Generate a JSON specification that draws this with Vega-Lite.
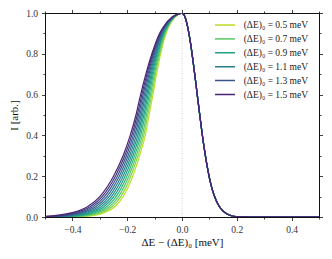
{
  "$schema": "https://vega.github.io/schema/vega-lite/v6.json",
  "width": 274,
  "height": 204,
  "autosize": {"type": "none"},
  "padding": {"left": 45, "top": 13, "right": 13, "bottom": 42},
  "background": "white",
  "config": {
    "view": {"stroke": "#111", "strokeWidth": 1},
    "font": "Liberation Serif",
    "axis": {
      "grid": false,
      "domainColor": "#111",
      "domainWidth": 1,
      "tickColor": "#111",
      "tickWidth": 0.8,
      "labelFont": "Liberation Serif",
      "labelFontSize": 9.5,
      "labelColor": "#333",
      "titleFont": "Liberation Serif",
      "titleFontSize": 11,
      "titleFontWeight": "normal",
      "titleColor": "#111"
    }
  },
  "datasets": {
    "left": [
      {"y": 1, "s05": 0, "s06": 0, "s07": 0, "s08": 0, "s09": 0, "s10": 0, "s11": 0, "s12": 0, "s13": 0, "s14": 0, "s15": 0},
      {"y": 0.98, "s05": -0.026, "s06": -0.027, "s07": -0.028, "s08": -0.029, "s09": -0.03, "s10": -0.031, "s11": -0.032, "s12": -0.033, "s13": -0.034, "s14": -0.035, "s15": -0.036},
      {"y": 0.93, "s05": -0.049, "s06": -0.051, "s07": -0.053, "s08": -0.055, "s09": -0.057, "s10": -0.059, "s11": -0.061, "s12": -0.063, "s13": -0.065, "s14": -0.067, "s15": -0.069},
      {"y": 0.9, "s05": -0.058, "s06": -0.0604, "s07": -0.0628, "s08": -0.0652, "s09": -0.0676, "s10": -0.07, "s11": -0.0724, "s12": -0.0748, "s13": -0.0772, "s14": -0.0796, "s15": -0.082},
      {"y": 0.8, "s05": -0.078, "s06": -0.0812, "s07": -0.0844, "s08": -0.0876, "s09": -0.0908, "s10": -0.094, "s11": -0.0972, "s12": -0.1004, "s13": -0.1036, "s14": -0.1068, "s15": -0.11},
      {"y": 0.7, "s05": -0.093, "s06": -0.0969, "s07": -0.1008, "s08": -0.1047, "s09": -0.1086, "s10": -0.1125, "s11": -0.1164, "s12": -0.1203, "s13": -0.1242, "s14": -0.1281, "s15": -0.132},
      {"y": 0.6, "s05": -0.106, "s06": -0.1105, "s07": -0.115, "s08": -0.1195, "s09": -0.124, "s10": -0.1285, "s11": -0.133, "s12": -0.1375, "s13": -0.142, "s14": -0.1465, "s15": -0.151},
      {"y": 0.5, "s05": -0.12, "s06": -0.1248, "s07": -0.1296, "s08": -0.1344, "s09": -0.1392, "s10": -0.144, "s11": -0.1488, "s12": -0.1536, "s13": -0.1584, "s14": -0.1632, "s15": -0.168},
      {"y": 0.4, "s05": -0.134, "s06": -0.1395, "s07": -0.145, "s08": -0.1505, "s09": -0.156, "s10": -0.1615, "s11": -0.167, "s12": -0.1725, "s13": -0.178, "s14": -0.1835, "s15": -0.189},
      {"y": 0.3, "s05": -0.155, "s06": -0.161, "s07": -0.167, "s08": -0.173, "s09": -0.179, "s10": -0.185, "s11": -0.191, "s12": -0.197, "s13": -0.203, "s14": -0.209, "s15": -0.215},
      {"y": 0.2, "s05": -0.18, "s06": -0.187, "s07": -0.194, "s08": -0.201, "s09": -0.208, "s10": -0.215, "s11": -0.222, "s12": -0.229, "s13": -0.236, "s14": -0.243, "s15": -0.25},
      {"y": 0.1, "s05": -0.215, "s06": -0.2235, "s07": -0.232, "s08": -0.2405, "s09": -0.249, "s10": -0.2575, "s11": -0.266, "s12": -0.2745, "s13": -0.283, "s14": -0.2915, "s15": -0.3},
      {"y": 0.05, "s05": -0.245, "s06": -0.255, "s07": -0.265, "s08": -0.275, "s09": -0.285, "s10": -0.295, "s11": -0.305, "s12": -0.315, "s13": -0.325, "s14": -0.335, "s15": -0.345},
      {"y": 0.02, "s05": -0.285, "s06": -0.297, "s07": -0.309, "s08": -0.321, "s09": -0.333, "s10": -0.345, "s11": -0.357, "s12": -0.369, "s13": -0.381, "s14": -0.393, "s15": -0.405},
      {"y": 0.01, "s05": -0.31, "s06": -0.3235, "s07": -0.337, "s08": -0.3505, "s09": -0.364, "s10": -0.3775, "s11": -0.391, "s12": -0.4045, "s13": -0.418, "s14": -0.4315, "s15": -0.445},
      {"y": 0.003, "s05": -0.35, "s06": -0.365, "s07": -0.38, "s08": -0.395, "s09": -0.41, "s10": -0.425, "s11": -0.44, "s12": -0.455, "s13": -0.47, "s14": -0.485, "s15": -0.5},
      {"y": 0.0005, "s05": -0.4, "s06": -0.4185, "s07": -0.437, "s08": -0.4555, "s09": -0.474, "s10": -0.4925, "s11": -0.511, "s12": -0.5295, "s13": -0.548, "s14": -0.5665, "s15": -0.585},
      {"y": 0, "s05": -0.45, "s06": -0.47, "s07": -0.49, "s08": -0.51, "s09": -0.53, "s10": -0.55, "s11": -0.57, "s12": -0.59, "s13": -0.61, "s14": -0.63, "s15": -0.65}
    ],
    "right": [
      {"x": 0, "y": 1},
      {"x": 0.01, "y": 0.984},
      {"x": 0.02, "y": 0.936},
      {"x": 0.03, "y": 0.862},
      {"x": 0.04, "y": 0.767},
      {"x": 0.05, "y": 0.662},
      {"x": 0.06, "y": 0.552},
      {"x": 0.07, "y": 0.445},
      {"x": 0.08, "y": 0.347},
      {"x": 0.09, "y": 0.263},
      {"x": 0.1, "y": 0.192},
      {"x": 0.11, "y": 0.137},
      {"x": 0.12, "y": 0.097},
      {"x": 0.13, "y": 0.066},
      {"x": 0.14, "y": 0.044},
      {"x": 0.16, "y": 0.018},
      {"x": 0.18, "y": 0.006},
      {"x": 0.2, "y": 0.002},
      {"x": 0.22, "y": 0.0005},
      {"x": 0.25, "y": 0},
      {"x": 0.5, "y": 0}
    ]
  },
  "layer": [
    {
      "data": {"values": [{"x": 0, "y": 0}]},
      "mark": {"type": "point", "opacity": 0},
      "encoding": {
        "x": {
          "field": "x", "type": "quantitative",
          "scale": {"domain": [-0.5, 0.5], "nice": false, "zero": false},
          "axis": {
            "orient": "bottom",
            "values": [-0.5, -0.4, -0.3, -0.2, -0.1, 0, 0.1, 0.2, 0.3, 0.4, 0.5],
            "labelExpr": "round(datum.value*10) % 2 === 0 ? format(datum.value, '.1f') : ''",
            "tickSize": {"condition": {"test": "round(datum.value*10) % 2 === 0", "value": 3.5}, "value": 2},
            "labelPadding": 4,
            "title": "ΔE − (ΔE)₀ [meV]",
            "titlePadding": 2
          }
        },
        "y": {
          "field": "y", "type": "quantitative",
          "scale": {"domain": [0, 1], "nice": false, "zero": false},
          "axis": {
            "orient": "left",
            "values": [0, 0.1, 0.2, 0.3, 0.4, 0.5, 0.6, 0.7, 0.8, 0.9, 1],
            "labelExpr": "round(datum.value*10) % 2 === 0 ? format(datum.value, '.1f') : ''",
            "tickSize": {"condition": {"test": "round(datum.value*10) % 2 === 0", "value": 3.5}, "value": 2},
            "labelPadding": 4,
            "title": "I [arb.]",
            "titlePadding": 6
          }
        }
      }
    },
    {
      "data": {"values": [{"x": 0, "y": 0}]},
      "mark": {"type": "point", "opacity": 0},
      "encoding": {
        "x": {
          "field": "x", "type": "quantitative",
          "axis": {
            "orient": "top",
            "values": [-0.5, -0.4, -0.3, -0.2, -0.1, 0, 0.1, 0.2, 0.3, 0.4, 0.5],
            "labels": false,
            "tickSize": {"condition": {"test": "round(datum.value*10) % 2 === 0", "value": 3.5}, "value": 2},
            "title": null
          }
        },
        "y": {
          "field": "y", "type": "quantitative",
          "axis": {
            "orient": "right",
            "values": [0, 0.1, 0.2, 0.3, 0.4, 0.5, 0.6, 0.7, 0.8, 0.9, 1],
            "labels": false,
            "tickSize": {"condition": {"test": "round(datum.value*10) % 2 === 0", "value": 3.5}, "value": 2},
            "title": null
          }
        }
      }
    },
    {
      "data": {"values": [{"x": 0}]},
      "mark": {"type": "rule", "color": "#c8c8c8", "strokeDash": [1, 1.5], "strokeWidth": 0.8},
      "encoding": {
        "x": {"field": "x", "type": "quantitative", "axis": null}
      }
    },
    {
      "data": {"name": "left"},
      "transform": [
        {"fold": ["s05", "s06", "s07", "s08", "s09", "s10", "s11", "s12", "s13", "s14", "s15"], "as": ["s", "v"]}
      ],
      "mark": {"type": "line", "clip": true, "interpolate": "monotone", "strokeWidth": 1.2},
      "encoding": {
        "x": {"field": "v", "type": "quantitative", "axis": null},
        "y": {"field": "y", "type": "quantitative", "axis": null},
        "color": {
          "field": "s", "type": "nominal",
          "scale": {
            "domain": ["s05", "s06", "s07", "s08", "s09", "s10", "s11", "s12", "s13", "s14", "s15"],
            "range": ["#bddf26", "#86d549", "#58c765", "#35b779", "#1fa187", "#21918c", "#277f8e", "#31688e", "#3b528b", "#453781", "#482475"]
          },
          "legend": {
            "orient": "none",
            "legendX": 169,
            "legendY": 6,
            "padding": 0,
            "title": null,
            "values": ["s05", "s07", "s09", "s11", "s13", "s15"],
            "labelExpr": "'(ΔE)₀ = ' + substring(datum.label,1,2) + '.' + substring(datum.label,2,3) + ' meV'",
            "symbolType": "stroke",
            "symbolSize": 400,
            "symbolStrokeWidth": 1.5,
            "clipHeight": 12,
            "rowPadding": 1.9,
            "labelOffset": 7.7,
            "labelFont": "Liberation Serif",
            "labelFontSize": 9.5,
            "labelColor": "#222"
          }
        }
      }
    },
    {
      "data": {"name": "right"},
      "transform": [
        {"fold": ["s05", "s06", "s07", "s08", "s09", "s10", "s11", "s12", "s13", "s14", "s15"], "as": ["s", "v"]}
      ],
      "mark": {"type": "line", "clip": true, "interpolate": "monotone", "strokeWidth": 1.2},
      "encoding": {
        "x": {"field": "x", "type": "quantitative", "axis": null},
        "y": {"field": "y", "type": "quantitative", "axis": null},
        "color": {"field": "s", "type": "nominal", "legend": null}
      }
    }
  ]
}
